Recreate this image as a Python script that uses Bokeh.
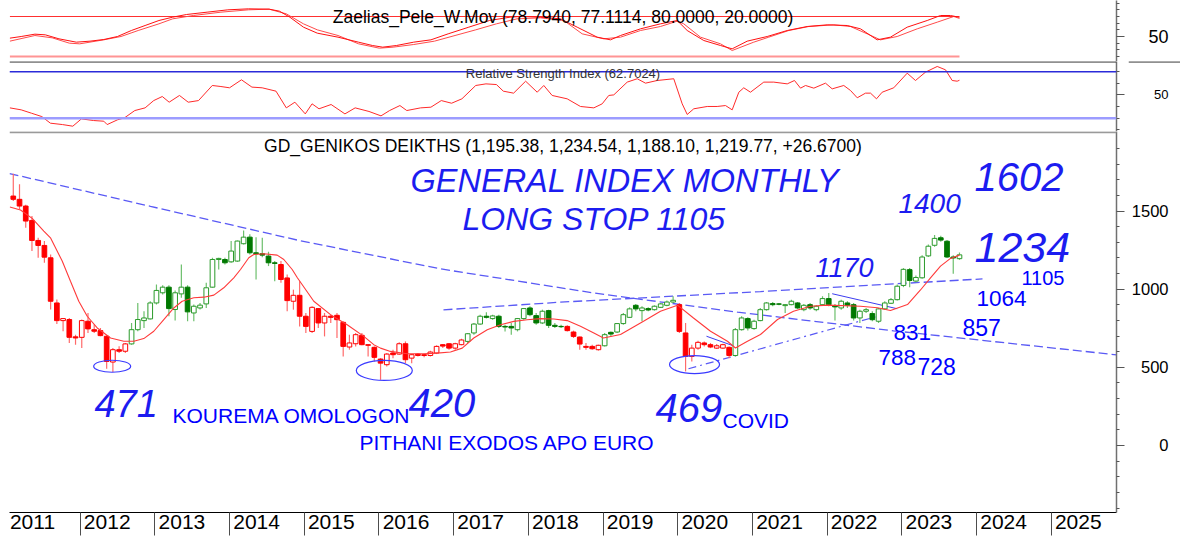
from bokeh.plotting import figure
from bokeh.layouts import column, row
from bokeh.models import Range1d, Span, Label, FixedTicker, ColumnDataSource, CustomJSTickFormatter
from bokeh.core.properties import value
from bokeh.embed import file_html
from bokeh.resources import INLINE

# ---------------- data ----------------
first_month = (2011, 2)   # first monthly candle

opens = [1596, 1575, 1532, 1440, 1312, 1280, 1201, 912, 799, 806,
         695, 692, 795, 741, 735, 699, 534, 613, 603, 650,
         741, 799, 810, 912, 977, 1013, 870, 970, 1013, 848,
         880, 906, 1013, 1190, 1190, 1175, 1180, 1291, 1333, 1233,
         1227, 1212, 1169, 1158, 1072, 923, 961, 827, 730, 876,
         784, 827, 833, 788, 630, 651, 705, 645, 628, 553,
         517, 592, 585, 651, 559, 585, 581, 576, 592, 645,
         651, 623, 645, 666, 720, 777, 827, 812, 827, 762,
         762, 741, 812, 880, 831, 784, 863, 769, 762, 762,
         726, 694, 634, 634, 613, 638, 724, 726, 780, 820,
         897, 863, 876, 869, 884, 897, 918, 901, 720, 570,
         623, 656, 645, 623, 623, 628, 576, 741, 812, 748,
         799, 869, 908, 906, 895, 901, 912, 869, 901, 869,
         901, 940, 895, 880, 912, 901, 816, 859, 844, 795,
         874, 910, 933, 1024, 1125, 1052, 1073, 1213, 1281, 1329,
         1307, 1206, 1195.38]
highs = [1739, 1671, 1540, 1468, 1329, 1308, 1222, 934, 816, 816,
         709, 806, 848, 774, 752, 705, 624, 635, 656, 784,
         912, 859, 923, 1030, 1026, 1026, 992, 1158, 1026, 902,
         912, 1041, 1201, 1201, 1201, 1308, 1312, 1376, 1351, 1333,
         1329, 1239, 1180, 1180, 1094, 997, 1051, 848, 891, 880,
         848, 837, 848, 795, 709, 720, 720, 645, 634, 559,
         592, 613, 660, 666, 585, 592, 587, 607, 641, 649,
         656, 658, 683, 720, 784, 837, 852, 837, 837, 773,
         784, 816, 880, 891, 848, 869, 869, 784, 773, 769,
         735, 698, 656, 645, 645, 720, 730, 784, 848, 884,
         906, 891, 884, 897, 912, 927, 955, 912, 784, 645,
         670, 666, 656, 649, 651, 634, 752, 827, 820, 805,
         880, 918, 918, 912, 906, 933, 918, 906, 912, 897,
         955, 976, 906, 933, 923, 912, 869, 880, 859, 880,
         923, 944, 1030, 1135, 1135, 1088, 1217, 1286, 1346, 1342,
         1314, 1217, 1234.54]
lows = [1565, 1511, 1393, 1244, 1201, 1169, 870, 778, 731, 656,
        645, 624, 720, 720, 699, 491, 470, 592, 592, 645,
        731, 752, 806, 902, 966, 827, 799, 945, 795, 795,
        870, 880, 1009, 1126, 1158, 1169, 1175, 1286, 1222, 1062,
        1205, 1148, 1051, 1041, 859, 869, 762, 720, 720, 752,
        698, 784, 688, 570, 613, 634, 641, 570, 538, 420,
        506, 559, 581, 527, 527, 570, 564, 570, 585, 623,
        613, 613, 641, 656, 709, 773, 812, 805, 752, 730,
        709, 730, 805, 827, 773, 777, 752, 752, 752, 730,
        688, 613, 613, 613, 607, 634, 698, 720, 773, 816,
        859, 795, 859, 863, 880, 891, 912, 720, 474, 538,
        613, 634, 623, 617, 617, 559, 570, 735, 735, 741,
        795, 863, 891, 897, 848, 897, 874, 859, 869, 859,
        897, 891, 799, 869, 880, 799, 784, 848, 795, 784,
        869, 906, 927, 1013, 1013, 1045, 1067, 1206, 1271, 1303,
        1200, 1099, 1188.10]
closes = [1575, 1532, 1436, 1312, 1280, 1205, 923, 799, 812, 692,
          688, 799, 746, 731, 703, 538, 613, 603, 650, 741,
          806, 816, 912, 992, 1013, 876, 977, 1013, 855, 891,
          898, 1009, 1190, 1197, 1169, 1244, 1308, 1333, 1233, 1227,
          1218, 1169, 1165, 1062, 927, 961, 827, 762, 884, 784,
          827, 820, 805, 634, 656, 709, 645, 641, 564, 527,
          585, 581, 651, 549, 581, 576, 576, 598, 634, 636,
          623, 651, 675, 715, 777, 827, 820, 829, 762, 758,
          752, 812, 876, 837, 784, 859, 769, 762, 760, 735,
          698, 649, 628, 619, 641, 709, 713, 780, 837, 874,
          874, 880, 867, 891, 906, 918, 929, 730, 570, 623,
          660, 645, 630, 638, 645, 576, 741, 816, 752, 795,
          869, 912, 901, 904, 901, 923, 880, 897, 880, 891,
          940, 901, 887, 923, 897, 816, 859, 869, 805, 874,
          912, 933, 1019, 1127, 1056, 1075, 1206, 1275, 1325, 1314,
          1206, 1200, 1219.77]
# colour regime of the candles (run lengths)
trend_runs = [("down", 19), ("up", 24), ("down", 30), ("up", 16),
              ("down", 6), ("up", 12), ("down", 9), ("up", 37)]

# red moving average over the candles (decimal year, value)
ma_x = [2011.058, 2011.201, 2011.357, 2011.513, 2011.602, 2011.759, 2011.870, 2011.981,
        2012.094, 2012.228, 2012.406, 2012.584, 2012.718, 2012.851, 2012.985,
        2013.119, 2013.253, 2013.365, 2013.521, 2013.655, 2013.789, 2013.922,
        2014.056, 2014.146, 2014.257, 2014.324, 2014.458, 2014.637, 2014.726, 2014.838, 2014.905,
        2015.127, 2015.351, 2015.574, 2015.797, 2015.930,
        2016.020, 2016.154, 2016.378, 2016.600, 2016.779, 2016.957,
        2017.114, 2017.269, 2017.449, 2017.627, 2017.805, 2017.984,
        2018.162, 2018.340, 2018.519, 2018.697, 2018.876,
        2019.005, 2019.233, 2019.541, 2019.768, 2019.996,
        2020.210, 2020.438, 2020.665, 2020.772, 2020.933,
        2021.107, 2021.335, 2021.549, 2021.776,
        2022.004, 2022.446, 2022.673, 2022.847,
        2023.075, 2023.249, 2023.383, 2023.517, 2023.651, 2023.771]
ma_v = [1526, 1507, 1453, 1372, 1329, 1180, 1051, 923,
        827, 752, 688, 667, 667, 684, 731,
        806, 880, 923, 945, 949, 962, 1009,
        1073, 1126, 1201, 1222, 1227, 1218, 1190, 1126, 1075,
        923, 837, 773, 698, 645,
        623, 602, 587, 587, 591, 598,
        623, 688, 741, 773, 794, 805,
        812, 809, 799, 763, 720,
        688, 710, 795, 859, 898,
        816, 731, 667, 624, 667,
        710, 806, 859, 891,
        898, 891, 881, 864,
        902, 995, 1073, 1148, 1197, 1218]

# Zaelias_Pele_W.Mov oscillator: two lines
osc_a_x = [2011.058, 2011.210, 2011.394, 2011.533, 2011.716, 2011.948, 2012.131, 2012.316, 2012.499,
           2012.685, 2012.869, 2013.054, 2013.238, 2013.423, 2013.699, 2013.976, 2014.253, 2014.529,
           2014.667, 2014.806, 2014.989, 2015.174, 2015.451, 2015.726, 2015.912, 2016.050, 2016.234,
           2016.465, 2016.695, 2016.926, 2017.202, 2017.479, 2017.755, 2017.894, 2018.162, 2018.430,
           2018.653, 2018.921, 2019.099, 2019.233, 2019.501, 2019.768, 2019.992, 2020.126, 2020.348,
           2020.572, 2020.728, 2020.929, 2021.197, 2021.465, 2021.732, 2022.000, 2022.268, 2022.446,
           2022.669, 2022.847, 2023.071, 2023.339, 2023.517, 2023.651, 2023.771]
osc_a_v = [47.5, 50, 53.5, 52.5, 46.5, 41.5, 43, 45.5, 50,
           59, 66.5, 74, 79, 83, 86.5, 90, 91.5, 91,
           88, 79, 64, 55, 49, 41.5, 36.5, 34, 36.5,
           41.5, 45, 54, 64, 74, 79, 80, 79, 76.5,
           64, 49, 45, 51.5, 61.5, 69, 74, 59, 44,
           36.5, 31.5, 43, 50, 59, 65, 67.5, 66.5, 61.5,
           45, 49, 64, 74, 81.5, 81.5, 78.794]
osc_b_x = [2011.058, 2011.394, 2011.625, 2011.855, 2011.993, 2012.316, 2012.546, 2012.776, 2013.054,
           2013.238, 2013.514, 2013.884, 2014.252, 2014.529, 2014.759, 2014.989, 2015.174, 2015.451,
           2015.727, 2016.004, 2016.189, 2016.465, 2016.742, 2017.018, 2017.295, 2017.572, 2017.847,
           2018.162, 2018.474, 2018.720, 2019.009, 2019.233, 2019.501, 2019.768, 2019.992, 2020.080,
           2020.304, 2020.572, 2020.728, 2021.017, 2021.218, 2021.486, 2021.754, 2022.088, 2022.312,
           2022.535, 2022.713, 2022.937, 2023.205, 2023.473, 2023.695, 2023.771]
osc_b_v = [43, 51.5, 48, 40, 39, 45, 50, 59, 69,
           76.5, 81.5, 86.5, 90, 91, 84, 69, 60, 51.5,
           39, 32.5, 34, 38, 43, 51.5, 60, 69, 76.5,
           78, 74, 54, 46.5, 49, 59, 65, 73, 69,
           49, 39, 29, 41.5, 49, 59, 65, 67.5, 65,
           54, 45, 50, 61.5, 71.5, 80, 77.111]
osc_levels = [80, 20]

# Relative Strength Index
rsi_x = [2011.058, 2011.210, 2011.348, 2011.486, 2011.601, 2011.763, 2011.901, 2012.016, 2012.178,
         2012.316, 2012.361, 2012.499, 2012.593, 2012.731, 2012.869, 2012.984, 2013.099, 2013.191,
         2013.329, 2013.446, 2013.584, 2013.768, 2013.884, 2013.999, 2014.159, 2014.299, 2014.436,
         2014.621, 2014.759, 2014.874, 2015.013, 2015.104, 2015.197, 2015.359, 2015.544, 2015.681,
         2015.866, 2016.027, 2016.142, 2016.280, 2016.372, 2016.557, 2016.695, 2016.834, 2016.972,
         2017.110, 2017.295, 2017.432, 2017.572, 2017.664, 2017.802, 2017.963, 2018.118, 2018.206,
         2018.318, 2018.519, 2018.697, 2018.876, 2018.988, 2019.076, 2019.143, 2019.323, 2019.457,
         2019.568, 2019.724, 2019.946, 2020.059, 2020.126, 2020.214, 2020.394, 2020.527, 2020.639,
         2020.728, 2020.817, 2020.883, 2020.973, 2021.151, 2021.285, 2021.465, 2021.562, 2021.643,
         2021.710, 2021.821, 2021.977, 2022.067, 2022.222, 2022.312, 2022.402, 2022.513, 2022.580,
         2022.660, 2022.736, 2022.891, 2023.071, 2023.182, 2023.316, 2023.473, 2023.584, 2023.673,
         2023.740, 2023.771]
rsi_v = [38.9, 37.2, 34.3, 31.4, 25.7, 24.5, 23.1, 29.4, 28,
         27.4, 24.5, 28.6, 30.3, 36.6, 38.9, 45.2, 48.7, 43.8,
         49.6, 43.8, 45.2, 58.2, 57.3, 56.2, 63.1, 56.8, 56.2,
         53.3, 38.9, 43.8, 33.7, 42.4, 38.1, 41.8, 33.7, 38.9,
         35.8, 32, 36.6, 40.9, 36.6, 38.9, 39.5, 45.2, 42.9,
         46.7, 58.2, 59.6, 59, 53.3, 51.6, 61.9, 52.4, 58.2,
         49.6, 46.7, 40.1, 38.9, 42.4, 49.6, 50.1, 61.1, 64,
         60.2, 62.5, 64, 42.4, 33.2, 38.1, 40.1, 40.1, 40.9,
         37.2, 52.4, 56.2, 52.4, 61.1, 61.1, 59.6, 62.5, 55.9,
         58.2, 55.9, 60.2, 55.3, 58.2, 53.9, 47.6, 51.6, 51.6,
         46.7, 52.4, 56.2, 68.8, 62.5, 69.7, 74.6, 71.7, 62.5,
         61.9, 62.7024]
rsi_levels = [70, 30]

# drawn trend lines (decimal year, index value)
long_down_x = [2011.054, 2012.941, 2014.909, 2016.823, 2018.871, 2020.799, 2022.888, 2025.873]
long_down_v = [1740, 1530, 1314, 1130, 976, 853, 734, 580]
rising_x = [2016.863, 2018.430, 2021.107, 2024.079]
rising_v = [868, 917, 985, 1066]
support_x = [2020.143, 2022.713]
support_v = [491, 832]
covid_seg_x = [2020.384, 2020.772]
covid_seg_v = [699, 633]
top22_seg_x = [2022.067, 2022.937]
top22_seg_v = [971, 875]
# circled lows
circle_x = [2012.428, 2016.071, 2020.224]
circle_v = [507, 480, 518]

years = list(range(2011, 2026))
main_ticks = [0, 500, 1000, 1500]
osc_ticks = [50]
rsi_ticks = [50]

# ---------------- layout helpers ----------------
XR = Range1d(2011.0535, 2025.873)
PW = 1128          # plot part (frame 9..1116 + tick room)
AW = 1180 - PW     # right label strip
FONT = "Liberation Sans"
HAND = "#1c1cf0"
TYPED = "#0000ff"


def make_fig(h, y0, y1, bottom=0, xaxis=False):
    p = figure(width=PW, height=h, x_range=XR, y_range=Range1d(y0, y1),
               output_backend="svg", toolbar_location=None, title=None,
               x_axis_location="below" if xaxis else None, y_axis_location="right",
               min_border_left=9, min_border_right=PW - 1116, min_border_top=0,
               min_border_bottom=bottom)
    p.outline_line_color = None
    p.grid.visible = False
    p.background_fill_color = "white"
    p.border_fill_color = "white"
    ya = p.yaxis[0]
    ya.axis_line_color = "#707070"
    ya.axis_line_width = 1.5
    ya.major_tick_in = 0
    ya.major_tick_out = 8
    ya.minor_tick_in = 0
    ya.minor_tick_out = 3
    ya.major_tick_line_color = "#555555"
    ya.minor_tick_line_color = "#555555"
    ya.formatter = CustomJSTickFormatter(code="return ''")
    ya.major_label_text_font_size = "1px"
    ya.major_label_standoff = 0
    return p


def label_strip(h, yr, ticks, size, bottom=0):
    a = figure(width=AW, height=h, x_range=Range1d(0, AW), y_range=yr,
               output_backend="svg", toolbar_location=None, title=None,
               x_axis_location=None, y_axis_location=None,
               min_border_left=0, min_border_right=0, min_border_top=0,
               min_border_bottom=bottom)
    a.outline_line_color = None
    a.grid.visible = False
    a.border_fill_color = "white"
    a.text(x=[40] * len(ticks), y=ticks, text=[str(t) for t in ticks],
           text_font=value(FONT), text_font_size=f"{size}px", text_color="black",
           text_align="right", text_baseline="middle")
    return a


def label(p, x, y, text, size, color="black", style="normal", align="left"):
    p.add_layout(Label(x=x, y=y, text=text, text_font=FONT, text_font_size=f"{size}px",
                       text_color=color, text_font_style=style, text_align=align,
                       text_baseline="middle"))


# ---------------- top panel: oscillator ----------------
p1 = make_fig(61, 12.5, 104)
p1.yaxis[0].ticker = FixedTicker(ticks=osc_ticks, minor_ticks=[20, 30, 40, 60, 70, 80, 90, 100])
p1.line([osc_a_x[0], osc_a_x[-1]], [osc_levels[0]] * 2, line_color="#ff3030", line_width=1.2)
p1.line([osc_a_x[0], osc_a_x[-1]], [osc_levels[1]] * 2, line_color="#ff9494", line_width=2)
p1.line(osc_b_x, osc_b_v, line_color="#ff4a4a", line_width=1)
p1.line(osc_a_x, osc_a_v, line_color="#ff1010", line_width=1)
label(p1, 2018.463, 79.5, "Zaelias_Pele_W.Mov (78.7940, 77.1114, 80.0000, 20.0000)", 17.5, align="center")
a1 = label_strip(61, p1.y_range, osc_ticks, 18)

# ---------------- middle panel: RSI ----------------
p2 = make_fig(70, 18.53, 78.88)
p2.yaxis[0].ticker = FixedTicker(ticks=rsi_ticks, minor_ticks=[20, 30, 40, 60, 70])
p2.add_layout(Span(location=78.5, dimension="width", line_color="#222222", line_width=1.3))
p2.add_layout(Span(location=rsi_levels[0], dimension="width", line_color="#2b2bd9", line_width=1.4))
p2.add_layout(Span(location=rsi_levels[1], dimension="width", line_color="#9c9cff", line_width=2.5))
p2.line(rsi_x, rsi_v, line_color="#ff2a2a", line_width=1)
label(p2, 2018.463, 68.3, "Relative Strength Index (62.7024)", 13, color="#333333", align="center")
a2 = label_strip(70, p2.y_range, rsi_ticks, 13)
a2.add_layout(Span(location=78.5, dimension="width", line_color="#222222", line_width=1.3))

# ---------------- main panel: monthly candles ----------------
p3 = make_fig(411, -428.7, 2009, bottom=30, xaxis=True)
p3.yaxis[0].ticker = FixedTicker(ticks=main_ticks,
                                 minor_ticks=[v for v in range(-400, 2001, 100) if v % 500])
xa = p3.xaxis[0]
xa.ticker = FixedTicker(ticks=[y + 0.3615 for y in years], minor_ticks=years[1:])
xa.major_tick_in = 0
xa.major_tick_out = 0
xa.major_tick_line_color = None
xa.minor_tick_in = 0
xa.minor_tick_out = 23
xa.minor_tick_line_color = "#4d4d4d"
xa.axis_line_color = "black"
xa.formatter = CustomJSTickFormatter(code="return Math.floor(tick).toFixed(0)")
xa.major_label_text_font = FONT
xa.major_label_text_font_size = "21px"
xa.major_label_text_color = "black"
xa.major_label_standoff = -21

p3.add_layout(Span(location=2005, dimension="width", line_color="#9a9a9a", line_width=2))

trend = []
for name, n in trend_runs:
    trend += [name] * n

cx, col, fill, wick, top, bot = [], [], [], [], [], []
for i, (o, c, t) in enumerate(zip(opens, closes, trend)):
    m0 = first_month[1] - 1 + i
    cx.append(first_month[0] + m0 // 12 + ((m0 % 12) + 0.25) / 12)
    if t == "down":
        cc, ww = "#ff0000", "#ff6a6a"
    else:
        cc, ww = ("#2a9a2a" if c >= o else "#007800"), "#6cbf6c"
    col.append(cc)
    wick.append(ww)
    fill.append("white" if c >= o else cc)
    top.append(max(o, c))
    bot.append(min(o, c))

src = ColumnDataSource(dict(x=cx, high=highs, low=lows, top=top, bottom=bot,
                            col=col, fill=fill, wick=wick))

# trend lines
p3.line(long_down_x, long_down_v, line_color="#5a5af5", line_width=1.3, line_dash="9 4")
p3.line(rising_x, rising_v, line_color="#5a5af5", line_width=1.3, line_dash="9 4")
p3.line(support_x, support_v, line_color="#5a5af5", line_width=1.2, line_dash="8 4 2 4")
p3.line(covid_seg_x, covid_seg_v, line_color="#3d3df0", line_width=1)
p3.line(top22_seg_x, top22_seg_v, line_color="#3d3df0", line_width=1)

p3.segment(x0="x", y0="high", x1="x", y1="low", line_color="wick", line_width=1.2, source=src)
p3.vbar(x="x", width=0.0625, top="top", bottom="bottom", fill_color="fill",
        line_color="col", line_width=1, source=src)
p3.line(ma_x, ma_v, line_color="#ff3a3a", line_width=1.1)

p3.ellipse(x=circle_x, y=circle_v, width=[37, 56, 50], height=[12, 20, 18],
           width_units="screen", height_units="screen", fill_color=None,
           line_color="#3a3aff", line_width=1.2)

label(p3, 2018.463, 1919, "GD_GENIKOS DEIKTHS (1,195.38, 1,234.54, 1,188.10, 1,219.77, +26.6700)",
      17.5, align="center")

# hand-written notes
for x, y, t, s in [(2016.422, 1695, "GENERAL INDEX MONTHLY", 32.5),
                   (2017.118, 1446, "LONG STOP 1105", 32),
                   (2021.843, 1136, "1170", 27),
                   (2022.954, 1548, "1400", 28),
                   (2023.972, 1721, "1602", 40),
                   (2023.972, 1269, "1234", 43),
                   (2012.191, 269, "471", 38),
                   (2016.395, 272, "420", 40),
                   (2019.701, 243, "469", 40)]:
    label(p3, x, y, t, s, color=HAND, style="italic")

# typed notes
for x, y, t, s in [(2024.601, 1073, "1105", 20),
                   (2023.999, 939, "1064", 22.5),
                   (2023.811, 757, "857", 23),
                   (2022.888, 724, "831", 22.5),
                   (2022.687, 566, "788", 22.5),
                   (2023.209, 505, "728", 23),
                   (2013.236, 192, "KOUREMA OMOLOGON", 21),
                   (2015.739, 22, "PITHANI EXODOS APO EURO", 21),
                   (2020.598, 160, "COVID", 21)]:
    label(p3, x, y, t, s, color=TYPED)

a3 = label_strip(411, p3.y_range, main_ticks, 16.5, bottom=30)

layout = column(row(p1, a1), row(p2, a2), row(p3, a3))
open("out.html", "w").write(file_html(layout, INLINE))
